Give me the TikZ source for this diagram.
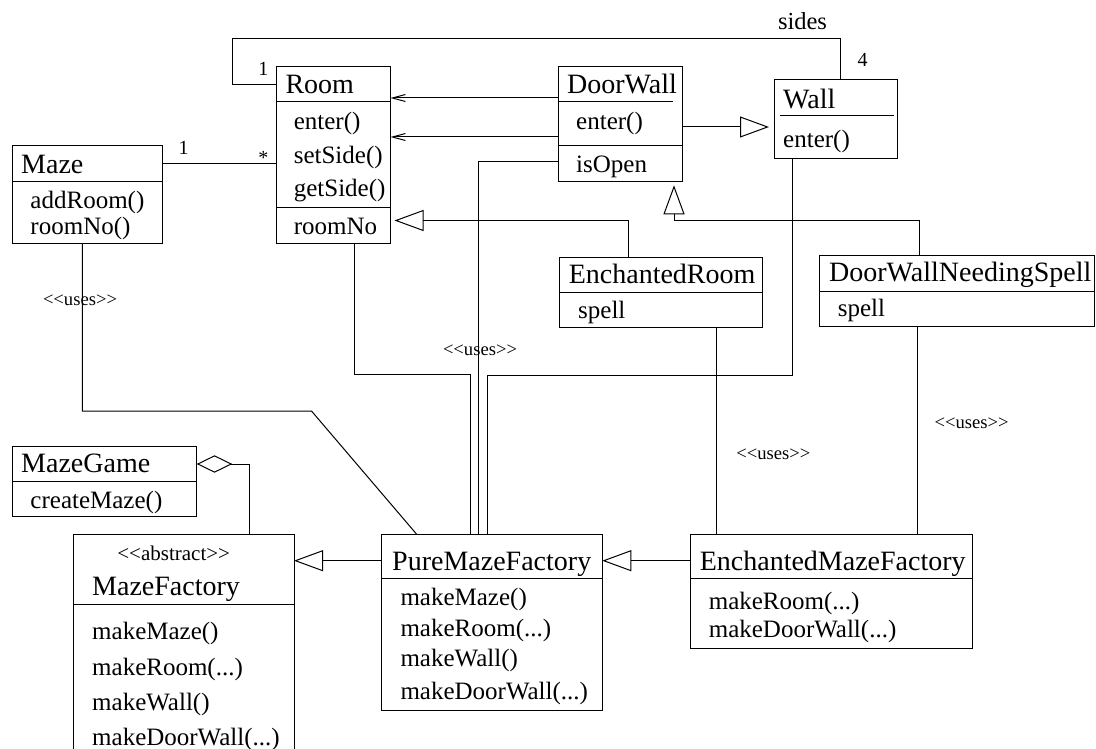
\documentclass[tikz,border=0pt]{standalone}
\usepackage{fontspec}
\setmainfont{Liberation Serif}
\usetikzlibrary{arrows.meta}
\begin{document}
\begin{tikzpicture}[x=1pt,y=-1pt, line width=1pt,
  box/.style={draw, anchor=north west, inner sep=0pt, outer sep=0pt},
  ttl/.style={anchor=base west, inner sep=0pt, font=\fontsize{28}{30}\selectfont},
  mth/.style={anchor=base west, inner sep=0pt, font=\fontsize{25}{27}\selectfont},
  lbl/.style={anchor=base, inner sep=0pt, font=\fontsize{20}{22}\selectfont},
  useslbl/.style={anchor=base, inner sep=0pt, font=\fontsize{18.6}{20}\selectfont},
  gen/.style={-{Triangle[open,length=29pt,width=21pt]}},
  nav/.style={-{Straight Barb[length=13pt,width=7pt]}},
  agg/.style={{Diamond[open,length=35.6pt,width=17.4pt]}-},
]
\useasboundingbox (0,0) rectangle (1096,749);

% ---------- boxes ----------
\node[box, minimum width=114.5pt, minimum height=176pt] (room) at (276,67) {};
\draw (room.west |- 0,102) -- (room.east |- 0,102);
\draw (room.west |- 0,208) -- (room.east |- 0,208);
\node[ttl] (t-room) at (285,94) {Room};
\node[mth] (m-room1) at (293.3,129.3) {enter()};
\node[mth] (m-room2) at (293.3,163.5) {setSide()};
\node[mth] (m-room3) at (293.3,196.7) {getSide()};
\node[mth] (m-room4) at (293.3,235) {roomNo};

\node[box, minimum width=150pt, minimum height=97pt] (maze) at (12,146) {};
\draw (maze.west |- 0,182) -- (maze.east |- 0,182);
\node[ttl] (t-maze) at (20.7,173.3) {Maze};
\node[mth] (m-maze1) at (30,208.3) {addRoom()};
\node[mth] (m-maze2) at (30,235) {roomNo()};

\node[box, minimum width=124pt, minimum height=115pt] (dw) at (558,67) {};
\draw (dw.west |- 0,102) -- (672.7,102);
\draw (dw.west |- 0,146) -- (dw.east |- 0,146);
\node[ttl] (t-dw) at (566.7,94) {DoorWall};
\node[mth] (m-dw1) at (575.7,129.3) {enter()};
\node[mth] (m-dw2) at (575.7,172.3) {isOpen};

\node[box, minimum width=123pt, minimum height=79pt] (wall) at (774,80) {};
\draw (780,116) -- (894.3,116);
\node[ttl] (t-wall) at (782.7,109) {Wall};
\node[mth] (m-wall1) at (782.7,147.7) {enter()};

\node[box, minimum width=202.5pt, minimum height=70pt] (er) at (559.5,257) {};
\draw (er.west |- 0,292) -- (er.east |- 0,292);
\node[ttl] (t-er) at (568.3,283.3) {EnchantedRoom};
\node[mth] (m-er1) at (577.7,318.3) {spell};

\node[box, minimum width=275pt, minimum height=71pt] (dwns) at (819.5,255) {};
\draw (dwns.west |- 0,291) -- (dwns.east |- 0,291);
\node[ttl] (t-dwns) at (828.7,281.7) {DoorWallNeedingSpell};
\node[mth] (m-dwns1) at (837.3,316.7) {spell};

\node[box, minimum width=184.7pt, minimum height=70pt] (mg) at (12,446) {};
\draw (mg.west |- 0,481) -- (mg.east |- 0,481);
\node[ttl] (t-mg) at (20.7,472.3) {MazeGame};
\node[mth] (m-mg1) at (30,508.3) {createMaze()};

\node[box, minimum width=220.7pt, minimum height=240pt] (mf) at (73.3,534) {};
\draw (mf.west |- 0,604) -- (mf.east |- 0,604);
\node[useslbl, font=\fontsize{21}{23}\selectfont] (s-mf) at (173.7,560.7) {<\kern0pt<abstract>\kern0pt>};
\node[ttl] (t-mf) at (91.7,595.7) {MazeFactory};
\node[mth] (m-mf1) at (91.7,639.3) {makeMaze()};
\node[mth] (m-mf2) at (91.7,675) {makeRoom(...)};
\node[mth] (m-mf3) at (91.7,710) {makeWall()};
\node[mth] (m-mf4) at (91.7,745) {makeDoorWall(...)};

\node[box, minimum width=220.6pt, minimum height=176.4pt] (pmf) at (381.7,534.3) {};
\draw (pmf.west |- 0,578.3) -- (pmf.east |- 0,578.3);
\node[ttl] (t-pmf) at (391.7,570) {PureMazeFactory};
\node[mth] (m-pmf1) at (400,605) {makeMaze()};
\node[mth] (m-pmf2) at (400,636.7) {makeRoom(...)};
\node[mth] (m-pmf3) at (400,666.7) {makeWall()};
\node[mth] (m-pmf4) at (400,699.3) {makeDoorWall(...)};

\node[box, minimum width=282.3pt, minimum height=114.4pt] (emf) at (690,534.3) {};
\draw (emf.west |- 0,578.3) -- (emf.east |- 0,578.3);
\node[ttl] (t-emf) at (699.3,570) {EnchantedMazeFactory};
\node[mth] (m-emf1) at (708.3,609.3) {makeRoom(...)};
\node[mth] (m-emf2) at (708.3,637.3) {makeDoorWall(...)};

% ---------- connectors ----------
% sides association Room -- Wall
\draw (room.west |- 0,85) -- (232,85) -- (232,39) -- (840,39) -- (wall.north -| 840,0);
\node[lbl] (l-one1) at (263.3,76) {1};
\node[lbl, font=\fontsize{24.5}{26}\selectfont] (l-sides) at (802.5,29.3) {sides};
\node[lbl] (l-four) at (862.7,66.7) {4};

% Maze -- Room
\draw (maze.east |- 0,164) -- (room.west |- 0,164);
\node[lbl] (l-one2) at (183.7,155) {1};
\node[lbl] (l-star) at (263.3,164.4) {*};

% DoorWall -> Room navigations
\draw[nav] (dw.west |- 0,98) -- (room.east |- 0,98);
\draw[nav] (dw.west |- 0,137) -- (room.east |- 0,137);

% DoorWall -> Wall generalization
\draw[gen, shorten >=5pt] (dw.east |- 0,127) -- (wall.west |- 0,127);

% EnchantedRoom -> Room generalization
\draw[gen, shorten >=4pt] (er.north -| 628.3,0) |- (room.east |- 0,220.5);

% DoorWallNeedingSpell -> DoorWall generalization
\draw[gen, shorten >=3.3pt] (dwns.north -| 919.4,0) |- (674,220.5) -- (dw.south -| 674,0);

% uses: PureMazeFactory
\draw (maze.south -| 82.3,0) |- (311.5,411) -- (pmf.north -| 416.7,0);
\draw (room.south -| 354,0) |- (470,374) -- (pmf.north -| 470,0);
\draw (dw.west |- 0,162) -| (pmf.north -| 478.7,0);
\draw (wall.south -| 792,0) |- (487.3,375.7) -- (pmf.north -| 487.3,0);
\node[useslbl] (u-maze) at (80,305.7) {<\kern0pt<uses>\kern0pt>};
\node[useslbl] (u-pmf) at (480,355.7) {<\kern0pt<uses>\kern0pt>};

% uses: EnchantedMazeFactory
\draw (er.south -| 716.7,0) -- (emf.north -| 716.7,0);
\draw (dwns.south -| 917.7,0) -- (emf.north -| 917.7,0);
\node[useslbl] (u-er) at (773.3,459) {<\kern0pt<uses>\kern0pt>};
\node[useslbl] (u-dwns) at (971.7,428.3) {<\kern0pt<uses>\kern0pt>};

% MazeGame aggregation MazeFactory
\draw[agg] (mg.east |- 0,464) -| (mf.north -| 249.3,0);

% factory generalizations
\draw[gen] (pmf.west |- 0,560.7) -- (mf.east |- 0,560.7);
\draw[gen] (emf.west |- 0,560.7) -- (pmf.east |- 0,560.7);
\end{tikzpicture}
\end{document}
